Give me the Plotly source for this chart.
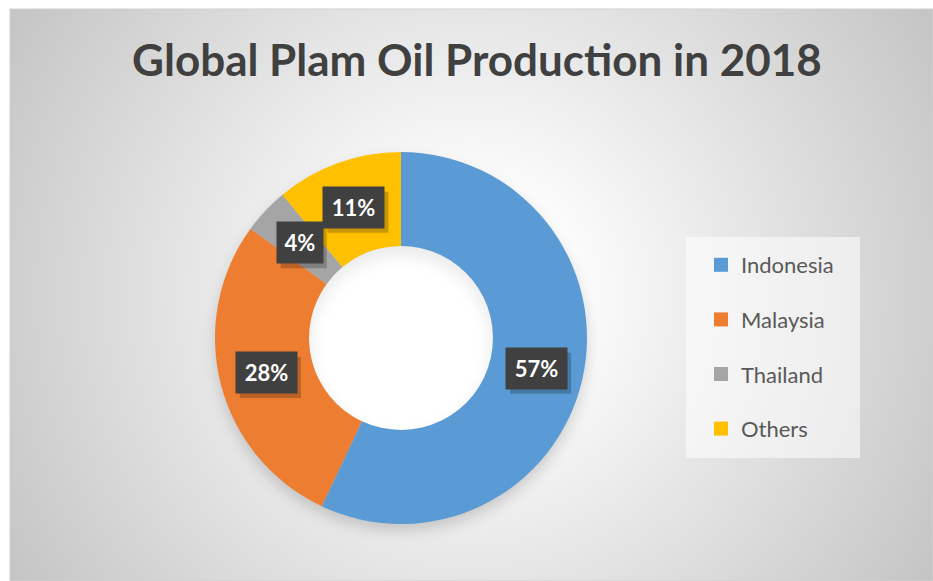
import base64
import math
import plotly.graph_objects as go

# ---- data ----
categories = ["Indonesia", "Malaysia", "Thailand", "Others"]
shares = [57, 28, 4, 11]
colors = ["#5B9BD5", "#ED7D31", "#A5A5A5", "#FFC000"]
title_text = "Global Plam Oil Production in 2018"

# ---- geometry (pixels) ----
W, H = 933, 581
CX, CY, R_OUT, R_IN = 401, 338, 186, 92

# background: radial gradient + soft donut shadow, as an SVG image
svg = f'''<svg xmlns="http://www.w3.org/2000/svg" width="{W}" height="{H}" viewBox="0 0 {W} {H}">
<defs>
<radialGradient id="g" gradientUnits="userSpaceOnUse" cx="471" cy="295" r="560">
<stop offset="0" stop-color="#ffffff"/>
<stop offset="0.15" stop-color="#ffffff"/>
<stop offset="1" stop-color="#c2c2c2"/>
</radialGradient>
<filter id="b" x="-20%" y="-20%" width="140%" height="140%"><feGaussianBlur stdDeviation="7"/></filter>
</defs>
<rect x="0" y="0" width="{W}" height="{H}" fill="#ffffff"/>
<rect x="10" y="9" width="{W-10}" height="{H-9}" fill="url(#g)" stroke="#d0d0d0" stroke-width="1"/>
<circle cx="{CX}" cy="{CY+7}" r="{R_OUT}" fill="rgba(0,0,0,0.16)" filter="url(#b)"/>
<circle cx="{CX}" cy="{CY}" r="{R_IN}" fill="#ececec"/>
<circle cx="{CX}" cy="{CY+8}" r="{R_IN-2}" fill="#ffffff" filter="url(#b)"/>
</svg>'''
bg_uri = "data:image/svg+xml;base64," + base64.b64encode(svg.encode()).decode()

fig = go.Figure()

fig.add_trace(go.Pie(
    labels=categories, values=shares, hole=R_IN / R_OUT,
    sort=False, direction="clockwise", rotation=0,
    marker=dict(colors=colors, line=dict(width=0)),
    textinfo="none", hoverinfo="label+percent", showlegend=False,
    domain=dict(x=[(CX - R_OUT) / W, (CX + R_OUT) / W],
                y=[1 - (CY + R_OUT) / H, 1 - (CY - R_OUT) / H]),
))

# legend via marker-only traces (allows Excel-like spacing)
for name, col in zip(categories, colors):
    fig.add_trace(go.Scatter(
        x=[None], y=[None], mode="markers", name=name, legendgroup=name,
        marker=dict(symbol="square", size=14, color=col),
    ))

# data labels placed at slice mid-angles, with drop-shadow boxes
annotations = []
shapes = [dict(type="rect", xref="paper", yref="paper",
               x0=686 / W, x1=860 / W, y0=1 - 458 / H, y1=1 - 237 / H,
               fillcolor="rgba(255,255,255,0.55)", line=dict(width=0), layer="below")]
total = sum(shares)
cum = 0
r_mid = (R_OUT + R_IN) / 2
LABEL_FONT = 22
PAD = 8
for v in shares:
    mid = (cum + v / 2) / total * 2 * math.pi
    cum += v
    px = CX + r_mid * math.sin(mid)
    py = CY - r_mid * math.cos(mid)
    txt = f"{round(v / total * 100)}%"
    ax, ay = px / W, 1 - py / H
    bw = len(txt) * 15 + 2 * PAD
    bh = 41
    shapes.append(dict(type="rect", xref="paper", yref="paper",
                       xsizemode="pixel", ysizemode="pixel", xanchor=ax, yanchor=ay,
                       x0=-bw / 2 + 4, x1=bw / 2 + 4, y0=-bh / 2 - 5, y1=bh / 2 - 5,
                       fillcolor="rgba(0,0,0,0.22)", line=dict(width=0), layer="above"))
    annotations.append(dict(text=f"<b>{txt}</b>", x=ax, y=ay, xref="paper", yref="paper",
                            showarrow=False, xanchor="center", yanchor="middle",
                            width=bw, height=bh, align="center", valign="middle",
                            font=dict(family="Lato", size=LABEL_FONT, color="#ffffff"),
                            bgcolor="#404040", borderpad=0))

fig.update_layout(
    width=W, height=H,
    margin=dict(l=0, r=0, t=0, b=0),
    paper_bgcolor="#ffffff", plot_bgcolor="rgba(0,0,0,0)",
    xaxis=dict(visible=False), yaxis=dict(visible=False),
    title=dict(text=f"<b>{title_text}</b>", x=477 / W, xanchor="center",
               y=1 - 61 / H, yanchor="middle",
               font=dict(family="Lato", size=44, color="#404040")),
    legend=dict(x=701 / W, y=1 - 244 / H, xanchor="left", yanchor="top",
                bgcolor="rgba(0,0,0,0)", tracegroupgap=23,
                font=dict(family="Lato", size=22, color="#595959")),
    images=[dict(source=bg_uri, xref="paper", yref="paper", x=0, y=1,
                 sizex=1, sizey=1, xanchor="left", yanchor="top",
                 sizing="stretch", layer="below")],
    shapes=shapes,
    annotations=annotations,
)

fig.write_html("out.html")
